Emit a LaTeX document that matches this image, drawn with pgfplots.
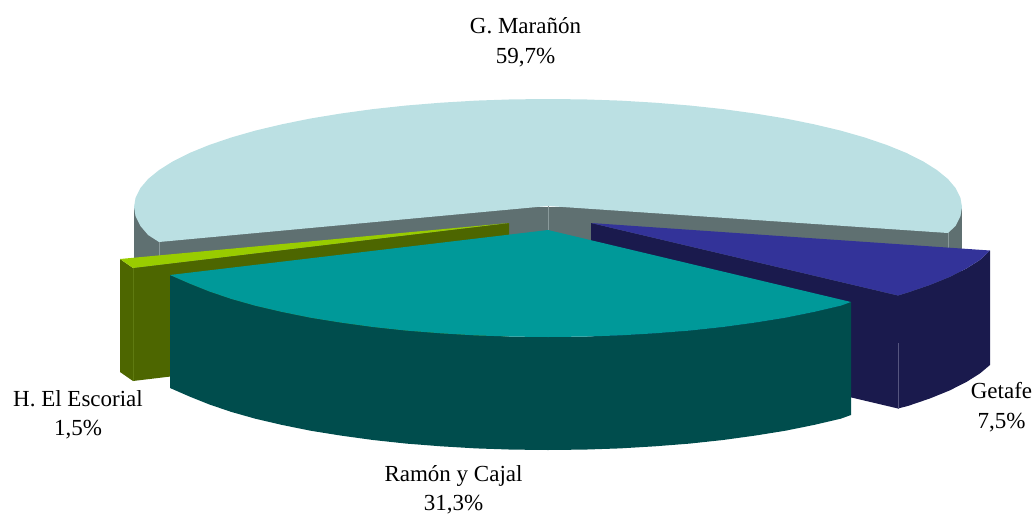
\documentclass[border=0pt]{standalone}
\usepackage{pgfplots}
\pgfplotsset{compat=1.18}
\usepackage{fontspec}
\setmainfont{Liberation Serif}
\definecolor{cLight}{HTML}{BBE0E3}
\definecolor{cGray}{HTML}{5F7071}
\definecolor{cGrayL}{HTML}{8A9A9B}
\definecolor{cGreen}{HTML}{99CC00}
\definecolor{cOlive}{HTML}{4D6600}
\definecolor{cOliveL}{HTML}{5F7A10}
\definecolor{cTeal}{HTML}{009999}
\definecolor{cTealD}{HTML}{004D4D}
\definecolor{cBlue}{HTML}{333399}
\definecolor{cBlueD}{HTML}{1A1A4D}
\definecolor{cBlueL}{HTML}{55557F}
\tikzset{lab/.style={font=\fontsize{23}{26}\selectfont, anchor=base, text=black, inner sep=0pt}}
\begin{document}
\begin{tikzpicture}
\begin{axis}[
  scale only axis, width=1033pt, height=511pt,
  xmin=0, xmax=1033, ymin=0, ymax=511, y dir=reverse,
  hide axis, clip=false,
  every axis plot/.append style={draw=none, mark=none, line width=0pt}
]
\path (axis cs:0,0) (axis cs:1033,511);
% grey walls of the large slice
\addplot[fill=cGray] coordinates {(134,207)(134,320)(962,320)(962,207)} --cycle;
% large slice top
\addplot[fill=cLight] coordinates {
(159,242)(148.1,235)(140.3,225.8)(135.6,216.4)(134,207)(135.6,197.6)(140.3,188.2)(148.1,179)
(159,170.1)(172.8,161.4)(189.5,153)(208.9,145.1)(230.9,137.6)(255.3,130.6)(281.9,124.3)
(310.5,118.5)(341,113.5)(373,109.1)(406.4,105.5)(440.9,102.7)(476.1,100.6)(511.9,99.4)(548,99)
(584.1,99.4)(619.9,100.6)(655.1,102.7)(689.6,105.5)(723,109.1)(755,113.5)(785.5,118.5)
(814.1,124.3)(840.7,130.6)(865.1,137.6)(887.1,145.1)(906.5,153)(923.2,161.4)(937,170.1)
(947.9,179)(955.7,188.2)(960.4,197.6)(962,207)(960.4,216.4)(955.7,225.8)(948,233)(548,206)} --cycle;
% edge lines on the grey walls
\addplot[draw=cGrayL, line width=0.8pt] coordinates {(159,242)(159,256)};
\addplot[draw=cGrayL, line width=0.8pt] coordinates {(948,233)(948,250)};
\addplot[draw=cGrayL, line width=0.8pt] coordinates {(548,206)(548,232)};
% olive slice
\addplot[fill=cOlive] coordinates {(133,268)(509,223)(509,336)(133,381)} --cycle;
\addplot[fill=cOlive] coordinates {(120,259)(133,268)(133,381)(120,372)} --cycle;
\addplot[draw=cOliveL, line width=0.6pt] coordinates {(133,268)(133,381)};
\addplot[fill=cGreen] coordinates {(120,259)(133,268)(509,223)} --cycle;
% blue slice
\addplot[fill=cBlueD] coordinates {(591,223)(898,295.5)(898,408.5)(591,336)} --cycle;
\addplot[fill=cBlueD] coordinates {(898,295.5)(908.1,292.4)(930.1,284.9)(949.5,277)(966.2,268.6)(980,259.9)(990,250.5)
(990,365)(980,373.4)(966.2,382.1)(949.5,390.5)(930.1,398.4)(908.1,405.9)(898,408.5)} --cycle;
\addplot[draw=cBlueL, line width=0.6pt] coordinates {(898,343)(898,408.5)};
\addplot[fill=cBlue] coordinates {(591,223)(990,250.5)(980,259.9)(966.2,268.6)(949.5,277)(930.1,284.9)(908.1,292.4)(898,295.5)} --cycle;
% teal slice
\addplot[fill=cTealD] coordinates {(170,275)(189.5,283.5)(208.9,291.3)(230.9,298.8)(255.3,305.7)(281.9,311.9)(310.5,317.7)
(341,322.6)(373,327)(406.4,330.6)(440.9,333.3)(476.1,335.4)(511.9,336.6)(548,337)(584.1,336.6)(619.9,335.4)
(655.1,333.3)(689.6,330.6)(723,327)(755,322.6)(785.5,317.7)(814.1,311.9)(840.7,305.7)(851,302)
(851,415)(840.7,418.7)(814.1,424.9)(785.5,430.7)(755,435.6)(723,440)(689.6,443.6)(655.1,446.3)(619.9,448.4)
(584.1,449.6)(548,450)(511.9,449.6)(476.1,448.4)(440.9,446.3)(406.4,443.6)(373,440)(341,435.6)(310.5,430.7)
(281.9,424.9)(255.3,418.7)(230.9,411.8)(208.9,404.3)(189.5,396.5)(170,388)} --cycle;
\addplot[fill=cTeal] coordinates {(548,230)(170,275)(189.5,283.5)(208.9,291.3)(230.9,298.8)(255.3,305.7)(281.9,311.9)(310.5,317.7)
(341,322.6)(373,327)(406.4,330.6)(440.9,333.3)(476.1,335.4)(511.9,336.6)(548,337)(584.1,336.6)(619.9,335.4)
(655.1,333.3)(689.6,330.6)(723,327)(755,322.6)(785.5,317.7)(814.1,311.9)(840.7,305.7)(851,302)} --cycle;
% labels
\node[lab] at (axis cs:525.5,33) {G. Marañón};
\node[lab] at (axis cs:525.5,63) {59,7\%};
\node[lab] at (axis cs:1001.5,398) {Getafe};
\node[lab] at (axis cs:1001.5,428) {7,5\%};
\node[lab] at (axis cs:453.5,481) {Ramón y Cajal};
\node[lab] at (axis cs:453.5,510) {31,3\%};
\node[lab] at (axis cs:78,406) {H. El Escorial};
\node[lab] at (axis cs:78,435.5) {1,5\%};
\end{axis}
\end{tikzpicture}
\end{document}
